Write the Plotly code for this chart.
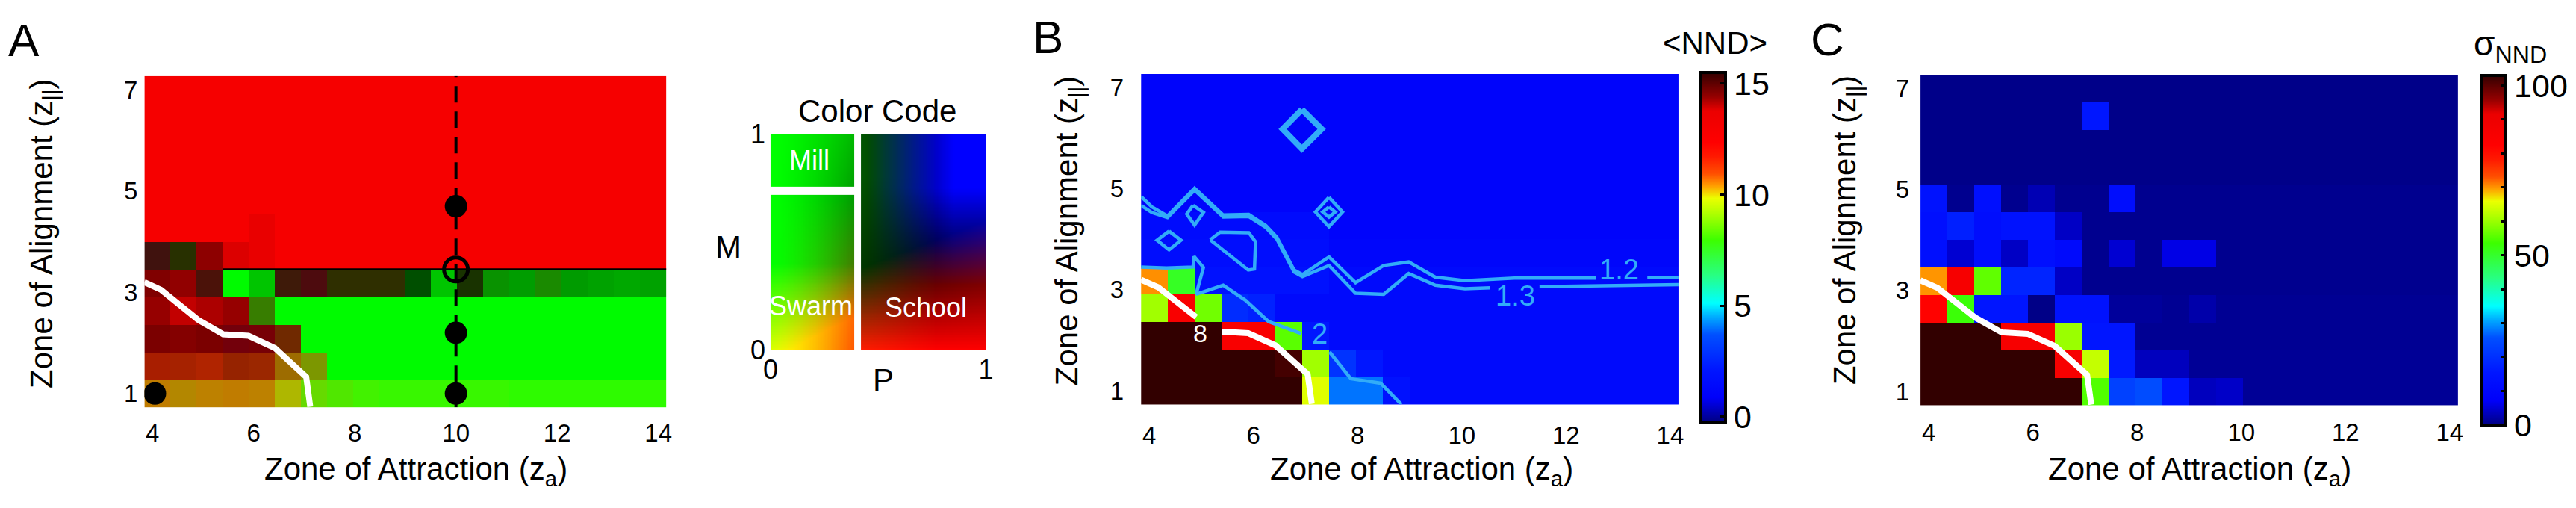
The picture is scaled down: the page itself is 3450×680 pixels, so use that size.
import numpy as np
import plotly.graph_objects as go

W, H = 3450, 680
FONT = "Liberation Sans, Arial, Helvetica, sans-serif"

# ---------------------------------------------------------------- data
ZA = np.linspace(4.1, 13.9, 20)      # cell centres: zone of attraction
ZO = np.linspace(1.0, 7.0, 12)       # cell centres: zone of alignment
ZA_TICKS = [4, 6, 8, 10, 12, 14]
ZO_TICKS = [1, 3, 5, 7]

# Panel A: polarisation P and rotation M per cell, rows from zo=7 (top) to zo=1 (bottom)
A_P = [
    [0.95] * 20,
    [0.95] * 20,
    [0.95] * 20,
    [0.95] * 20,
    [0.95] * 20,
    [0.95] * 20,
    [0.65, 0.45, 0.95, 0.95, 0.95] + [0.95] * 15,
    [0.95, 0.95, 0.65, 0.05, 0.30, 0.60, 0.70, 0.45, 0.45, 0.45,
     0.43, 0.30, 0.44, 0.40, 0.40, 0.40, 0.40, 0.39, 0.38, 0.39],
    [0.95, 0.95, 0.95, 0.95, 0.40] + [0.05] * 15,
    [0.95, 0.95, 0.95, 0.95, 0.95, 0.45] + [0.05] * 14,
    [0.50, 0.47, 0.44, 0.47, 0.43, 0.40, 0.32] + [0.05] * 13,
    [0.36, 0.34, 0.35, 0.36, 0.35, 0.24, 0.16, 0.12, 0.08] + [0.06] * 5 + [0.04] * 6,
]
A_M = [
    [0.02] * 20,
    [0.02] * 20,
    [0.02] * 20,
    [0.02] * 20,
    [0.02] * 20,
    [0.02] * 4 + [0.05] + [0.02] * 15,
    [0.35, 0.33, 0.26, 0.08, 0.05] + [0.02] * 15,
    [0.29, 0.25, 0.33, 0.85, 0.85, 0.34, 0.34, 0.32, 0.32, 0.32,
     0.75, 0.85, 0.35, 0.66, 0.76, 0.58, 0.74, 0.78, 0.80, 0.78],
    [0.24, 0.14, 0.19, 0.24, 0.45] + [0.85] * 15,
    [0.30, 0.28, 0.30, 0.32, 0.31, 0.22] + [0.85] * 14,
    [0.14, 0.14, 0.12, 0.165, 0.15, 0.28, 0.30] + [0.85] * 13,
    [0.22, 0.23, 0.22, 0.22, 0.22, 0.20, 0.28, 0.30, 0.31] + [0.32] * 5 + [0.33] * 6,
]
A_DOTS_ZA = [4.05, 10.0, 10.0, 10.0]
A_DOTS_ZO = [1.0, 1.0, 2.2, 4.7]
A_OPEN_ZA = [10.0]
A_OPEN_ZO = [3.45]
A_CUT_ZA = [10.0, 10.0]
A_CUT_ZO = [0.7273, 7.2727]
A_EDGE_ZA = [5.39, 14.158]
A_EDGE_ZO = [3.455, 3.455]

# transition boundary (white line) shared by all panels
BND_ZA = [3.84, 4.17, 4.90, 5.40, 5.90, 6.42, 7.04, 7.12]
BND_ZO = [3.20, 3.05, 2.46, 2.17, 2.14, 1.90, 1.33, 0.74]

# Panel B: mean nearest-neighbour distance <NND>, rows top -> bottom
B_NND = [
    [1.1] * 20,
    [1.1] * 20,
    [1.1] * 20,
    [1.1] * 20,
    [1.1] * 20,
    [1.5] * 7 + [1.1] * 13,
    [1.6] * 7 + [1.2] * 13,
    [10.5, 7.5] + [1.8] * 5 + [1.4] * 13,
    [9.0, 12.8, 8.5, 2.7, 2.4] + [1.45] * 15,
    [16, 16, 16, 12.8, 12.8, 8.25, 2.1] + [1.45] * 13,
    [16] * 5 + [15.3, 9.0, 2.9, 2.1] + [1.45] * 11,
    [16] * 6 + [9.7, 4.0, 4.0, 1.8] + [1.45] * 10,
]
# contour lines of <NND>
C12_ZA = [3.84, 4.05, 4.35, 4.87, 5.42, 5.91, 6.24, 6.45, 6.78, 6.94, 7.45, 7.96, 8.50,
          8.98, 9.49, 10.06, 11.01, 12.57, None, 13.56, 14.16]
C12_ZO = [4.85, 4.64, 4.46, 5.01, 4.48, 4.49, 4.27, 4.04, 3.39, 3.30, 3.65, 3.14, 3.48,
          3.55, 3.25, 3.18, 3.23, 3.23, None, 3.24, 3.24]
C13_ZA = [3.84, 4.05, 4.35, 4.87, 5.42, 5.91, 6.24, 6.45, 6.78, 6.94, 7.45, 7.96, 8.50,
          8.98, 9.49, 10.06, 10.54, None, 11.49, 14.16]
C13_ZO = [4.67, 4.53, 4.43, 4.97, 4.44, 4.45, 4.23, 4.00, 3.35, 3.26, 3.48, 2.93, 2.91,
          3.32, 3.09, 3.02, 3.04, None, 3.06, 3.10]
C2_ZA = [3.84, 4.33, 4.84, 4.86, 5.04, 4.90, 5.42, 5.85, 6.29, 6.92, None, 7.46, 7.87, 8.44, 8.84]
C2_ZO = [3.45, 3.43, 3.45, 3.66, 3.44, 2.91, 3.09, 2.79, 2.37, 2.13, None, 1.77, 1.24, 1.15, 0.73]
LOOPS = [  # (za, zo, width)
    ([6.93, 6.56, 6.93, 7.31, 6.93], [6.57, 6.18, 5.79, 6.18, 6.57], 8),
    ([7.45, 7.19, 7.45, 7.71, 7.45], [4.83, 4.54, 4.25, 4.54, 4.83], 4.5),
    ([7.45, 7.33, 7.45, 7.57, 7.45], [4.64, 4.54, 4.44, 4.54, 4.64], 4.5),
    ([4.38, 4.15, 4.38, 4.61, 4.38], [4.16, 3.98, 3.79, 3.98, 4.16], 4.5),
    ([4.84, 4.72, 4.87, 5.04, 4.84], [4.67, 4.50, 4.28, 4.53, 4.67], 4.5),
    ([5.17, 5.36, 5.91, 6.04, 6.02, 5.90, 5.17], [3.99, 4.14, 4.13, 3.95, 3.41, 3.39, 3.99], 4.5),
]
C_LABELS = [("1.2", 13.02, 3.40), ("1.3", 11.03, 2.88), ("2", 7.27, 2.12)]
B_LABEL8 = ("8", 4.98, 2.14)

# Panel C: standard deviation of NND, rows top -> bottom
C_SIG = [
    [0.4] * 20,
    [0.4] * 6 + [15.5] + [0.4] * 13,
    [0.4] * 20,
    [0.4] * 20,
    [14, 0.8, 13, 0.8, 3, 0.8, 0.8, 12] + [0.8] * 12,
    [13, 17, 12, 14, 14, 4] + [0.8] * 14,
    [13, 4.8, 12, 4, 13, 11, 0.8, 4.8, 0.8, 6, 6] + [0.8] * 9,
    [70, 86, 56, 18, 18, 4] + [0.8] * 14,
    [82, 53, 15, 15, 0.3, 14, 14, 1.5, 1.5, 1.0, 2.4] + [1.0] * 9,
    [110, 110, 110, 86, 86, 60, 15, 15] + [1.0] * 12,
    [110] * 5 + [86, 63, 16, 3.6, 3.6] + [1.2] * 10,
    [110] * 6 + [55, 23, 25, 15, 3.6, 4.2] + [1.2] * 8,
]
B_CB_TICKS = [0, 5, 10, 15]
C_CB_TICKS = [0, 10, 20, 30, 40, 50, 60, 70, 80, 90, 100]
C_CB_TEXT = ["0", "", "", "", "", "50", "", "", "", "", "100"]

# ---------------------------------------------------------------- colour maps
JET = [
    [0.0, "rgb(0,0,130)"], [0.07, "rgb(0,0,250)"], [0.15, "rgb(0,22,255)"],
    [0.25, "rgb(0,80,255)"], [0.30, "rgb(0,170,255)"], [0.34, "rgb(0,255,255)"],
    [0.42, "rgb(40,255,130)"], [0.52, "rgb(60,255,0)"], [0.60, "rgb(180,255,0)"],
    [0.64, "rgb(235,255,0)"], [0.675, "rgb(255,160,0)"], [0.71, "rgb(255,80,0)"],
    [0.76, "rgb(255,25,0)"], [0.80, "rgb(255,0,0)"], [0.89, "rgb(235,0,0)"],
    [0.93, "rgb(150,0,0)"], [1.0, "rgb(50,0,0)"],
]


def code_rgb(P, M):
    """2-D colour code of (polarisation P, rotation M)."""
    P = np.asarray(P, float)
    M = np.asarray(M, float)
    c = lambda a: np.clip(a, 0, 1)
    u = c(P / 0.4)
    r1 = c(0.85 * c(1 - M / 0.4) + 0.6 * u * c(1 - M / 0.7))
    g1 = c(1 - u ** 1.5 * (0.69 - 0.4 * M))
    b1 = np.zeros_like(P)
    w = c((P - 0.42) / 0.58)
    r2 = c(1 - M / (0.38 + 0.22 * w))
    g2 = (85 / 255) * c(1 - (P - 0.42) / 0.35) * (0.35 + 0.65 * c(M / 0.8))
    b2 = c((P - 0.45) / 0.4) * c((M - 0.3) / 0.45)
    school = P >= 0.405
    rgb = np.stack([np.where(school, r2, r1), np.where(school, g2, g1),
                    np.where(school, b2, b1)], axis=-1)
    return np.round(rgb * 255).astype(int)


def fx(px):
    return px / W


def fy(py):
    return 1 - py / H


fig = go.Figure()

# ---------------------------------------------------------------- panel A
a_img = code_rgb(A_P, A_M)[::-1]
fig.add_trace(go.Image(z=a_img.tolist(), x0=ZA[0], dx=ZA[1] - ZA[0], y0=ZO[0], dy=ZO[1] - ZO[0],
                       xaxis="x", yaxis="y", hoverinfo="skip"))
fig.add_trace(go.Scatter(x=A_EDGE_ZA, y=A_EDGE_ZO, mode="lines", line=dict(color="black", width=2.5),
                         xaxis="x", yaxis="y"))
fig.add_trace(go.Scatter(x=BND_ZA, y=BND_ZO, mode="lines", line=dict(color="white", width=8),
                         xaxis="x", yaxis="y"))
fig.add_trace(go.Scatter(x=A_CUT_ZA, y=A_CUT_ZO, mode="lines",
                         line=dict(color="black", width=4, dash="22px,12px"), xaxis="x", yaxis="y"))
fig.add_trace(go.Scatter(x=A_DOTS_ZA, y=A_DOTS_ZO, mode="markers",
                         marker=dict(color="black", size=30), xaxis="x", yaxis="y"))
fig.add_trace(go.Scatter(x=A_OPEN_ZA, y=A_OPEN_ZO, mode="markers",
                         marker=dict(symbol="circle-open", color="black", size=32, line=dict(width=5)),
                         xaxis="x", yaxis="y"))

# ---------------------------------------------------------------- colour code
npx = 160
Pg = np.linspace(0, 1, npx)
Mg = np.linspace(0, 1, npx)
PP, MM = np.meshgrid(Pg, Mg)
cc = code_rgb(PP, MM)
gap = ((PP > 0.389) & (PP < 0.418)) | ((PP <= 0.389) & (MM > 0.723) & (MM < 0.759))
cc[gap] = 255
fig.add_trace(go.Image(z=cc.tolist(), x0=0, dx=1 / (npx - 1), y0=0, dy=1 / (npx - 1),
                       zsmooth="fast", xaxis="x4", yaxis="y4", hoverinfo="skip"))

# ---------------------------------------------------------------- panel B
fig.add_trace(go.Heatmap(
    z=B_NND[::-1], x=ZA, y=ZO, colorscale=JET, zmin=-0.25, zmax=15.5, xaxis="x2", yaxis="y2",
    colorbar=dict(x=fx(2281), xanchor="left", y=fy(82), yanchor="top", len=468, lenmode="pixels",
                  thickness=33, thicknessmode="pixels", outlinewidth=4, outlinecolor="black",
                  tickvals=B_CB_TICKS, ticks="inside", ticklen=9, tickwidth=3, tickcolor="black",
                  tickfont=dict(size=43, family=FONT), xpad=0, ypad=0)))
CONT = "rgb(50,172,248)"
for xs, ys in [(C12_ZA, C12_ZO), (C13_ZA, C13_ZO), (C2_ZA, C2_ZO)]:
    fig.add_trace(go.Scatter(x=xs, y=ys, mode="lines", line=dict(color=CONT, width=4.5),
                             connectgaps=False, xaxis="x2", yaxis="y2"))
for xs, ys, wd in LOOPS:
    fig.add_trace(go.Scatter(x=xs, y=ys, mode="lines", line=dict(color=CONT, width=wd),
                             xaxis="x2", yaxis="y2"))
bx = BND_ZA[:3] + [None] + BND_ZA[3:]
by = BND_ZO[:3] + [None] + BND_ZO[3:]
fig.add_trace(go.Scatter(x=bx, y=by, mode="lines", line=dict(color="white", width=8),
                         connectgaps=False, xaxis="x2", yaxis="y2"))

# ---------------------------------------------------------------- panel C
fig.add_trace(go.Heatmap(
    z=C_SIG[::-1], x=ZA, y=ZO, colorscale=JET, zmin=0, zmax=103, xaxis="x3", yaxis="y3",
    colorbar=dict(x=fx(3332), xanchor="left", y=fy(86), yanchor="top", len=468, lenmode="pixels",
                  thickness=33, thicknessmode="pixels", outlinewidth=4, outlinecolor="black",
                  tickvals=C_CB_TICKS, ticktext=C_CB_TEXT, ticks="inside", ticklen=9, tickwidth=3,
                  tickcolor="black", tickfont=dict(size=43, family=FONT), xpad=0, ypad=0)))
fig.add_trace(go.Scatter(x=BND_ZA, y=BND_ZO, mode="lines", line=dict(color="white", width=8),
                         xaxis="x3", yaxis="y3"))

# ---------------------------------------------------------------- layout
XR = [ZA[0] - (ZA[1] - ZA[0]) / 2, ZA[-1] + (ZA[1] - ZA[0]) / 2]
YR = [ZO[0] - (ZO[1] - ZO[0]) / 2, ZO[-1] + (ZO[1] - ZO[0]) / 2]


def axis(domain, rng, tickvals, standoff, anchor, size=33):
    return dict(domain=domain, range=rng, tickvals=tickvals, showgrid=False, zeroline=False,
                showline=False, ticks="", tickfont=dict(size=size, family=FONT, color="black"),
                ticklabelstandoff=standoff, anchor=anchor, fixedrange=True)


fig.update_layout(
    width=W, height=H, margin=dict(l=0, r=0, t=0, b=0),
    paper_bgcolor="white", plot_bgcolor="white", showlegend=False,
    font=dict(family=FONT, color="black"),
    xaxis=axis([fx(144), fx(928)], XR, ZA_TICKS, 12, "y"),
    yaxis=axis([fy(559), fy(87)], YR, ZO_TICKS, 8, "x"),
    xaxis2=axis([fx(1527), fx(2251)], XR, ZA_TICKS, 18, "y2"),
    yaxis2=axis([fy(555), fy(84)], YR, ZO_TICKS, 22, "x2"),
    xaxis3=axis([fx(2577), fx(3301)], XR, ZA_TICKS, 14, "y3"),
    yaxis3=axis([fy(556), fy(85)], YR, ZO_TICKS, 14, "x3"),
    xaxis4=axis([fx(1020), fx(1326)], [0, 1], [0, 1], 2, "y4", size=36),
    yaxis4=axis([fy(477), fy(170)], [0, 1], [0, 1], 6, "x4", size=36),
)

ann = []


def note(text, px, py, size, color="black", angle=0):
    ann.append(dict(text=text, x=fx(px), y=fy(py), xref="paper", yref="paper", showarrow=False,
                    xanchor="center", yanchor="middle", textangle=angle,
                    font=dict(size=size, color=color, family=FONT)))


note("A", 22, 36, 62)
note("B", 1402, 31, 62)
note("C", 2452, 35, 62)
XT = "Zone of Attraction (z<sub>a</sub>)"
YT = "Zone of Alignment (z<sub>||</sub>)"
note(XT, 550, 650, 42)
note(XT, 1905, 650, 42)
note(XT, 2953, 650, 42)
note(YT, 48, 312, 42, angle=-90)
note(YT, 1430, 308, 42, angle=-90)
note(YT, 2478, 307, 42, angle=-90)
note("Color Code", 1172, 137, 42)
note("Mill", 1080, 207, 36, "white")
note("Swarm", 1082, 414, 36, "white")
note("School", 1237, 417, 36, "white")
note("P", 1180, 520, 42)
note("M", 971, 330, 42)
note("&lt;NND&gt;", 2300, 40, 42)
note("σ<sub>NND</sub>", 3372, 44, 46)

for t, x, y in C_LABELS:
    ann.append(dict(text=t, x=x, y=y, xref="x2", yref="y2", showarrow=False,
                    font=dict(size=38, color=CONT, family=FONT)))
ann.append(dict(text=B_LABEL8[0], x=B_LABEL8[1], y=B_LABEL8[2], xref="x2", yref="y2",
                showarrow=False, font=dict(size=34, color="white", family=FONT)))
fig.update_layout(annotations=ann)

fig.write_html("out.html")
